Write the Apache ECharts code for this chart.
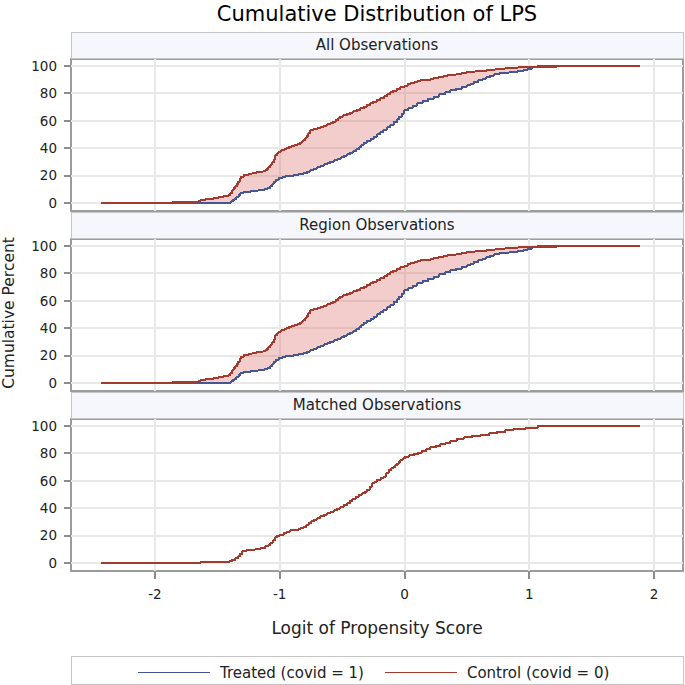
<!DOCTYPE html>
<html><head><meta charset="utf-8">
<script src="https://cdn.jsdelivr.net/npm/echarts@6/dist/echarts.min.js"></script>
<style>html,body{margin:0;padding:0;background:#fff}#c{width:685px;height:685px}
#c svg path, #c svg rect, #c svg polygon, #c svg polyline, #c svg line { shape-rendering: crispEdges; }</style>
</head><body><div id="c"></div>
<script>
// ---------- data ----------
const titleText = 'Cumulative Distribution of LPS';
const panelTitles = ['All Observations', 'Region Observations', 'Matched Observations'];
const xAxisTitle = 'Logit of Propensity Score';
const yAxisTitle = 'Cumulative Percent';
const yTicks = [0, 20, 40, 60, 80, 100];
const xTicks = [-2, -1, 0, 1, 2];
const treatedName = 'Treated (covid = 1)';
const controlName = 'Control (covid = 0)';

// [logit of propensity score, cumulative percent]
const allTreated = [
  [-1.86,0],[-1.389,1.2],[-1.375,2.0],[-1.363,2.7],[-1.347,4],[-1.33,5.5],[-1.315,7],[-1.295,7.7],
  [-1.275,8.2],[-1.234,8.8],[-1.19,9.2],[-1.154,9.5],[-1.12,10.2],[-1.095,11.0],[-1.074,11.9],
  [-1.06,13.6],[-1.048,15.5],[-1.03,16.8],[-1.008,18],[-0.98,18.6],[-0.954,19.2],[-0.92,19.8],
  [-0.887,20.4],[-0.85,21],[-0.807,21.7],[-0.78,22.8],[-0.754,24],[-0.725,25],[-0.70,26],[-0.673,27],
  [-0.645,28],[-0.62,29],[-0.595,30],[-0.567,31],[-0.54,32],[-0.51,33.2],[-0.485,34.3],[-0.459,35.5],
  [-0.435,36.6],[-0.41,37.8],[-0.385,39.2],[-0.365,40.6],[-0.345,42.2],[-0.326,44],[-0.30,45.2],
  [-0.27,46.6],[-0.245,48.2],[-0.219,50],[-0.195,51.6],[-0.17,53.2],[-0.14,55],[-0.112,57],[-0.085,59],
  [-0.059,61],[-0.04,63],[-0.02,65.2],[-0.006,67.5],[0.03,69],[0.065,71],[0.102,72.8],[0.145,74.3],
  [0.19,76],[0.235,77.6],[0.28,79.1],[0.325,80.6],[0.369,82],[0.415,83.3],[0.46,84.7],[0.503,86],
  [0.53,87],[0.555,88],[0.59,89.3],[0.625,90.6],[0.655,91.8],[0.689,92.9],[0.72,93.7],[0.755,94.5],
  [0.79,95],[0.823,95.4],[0.865,95.9],[0.91,96.4],[0.956,97],[0.99,97.9],[1.024,98.8],[1.10,99.3],[1.224,100]
];
const allControl = [
  [-2.43,0],[-1.862,0.6],[-1.70,1.1],[-1.635,2.2],[-1.595,3.0],[-1.531,3.6],[-1.49,4.2],[-1.451,5.0],
  [-1.41,5.8],[-1.395,7.0],[-1.381,9.0],[-1.37,10.5],[-1.358,12],[-1.345,13.5],[-1.331,15.5],
  [-1.32,17.5],[-1.309,19],[-1.29,20],[-1.275,20.6],[-1.25,21.2],[-1.234,21.7],[-1.205,22.2],
  [-1.181,22.6],[-1.15,23.0],[-1.128,23.4],[-1.11,24.0],[-1.101,24.8],[-1.09,26.0],[-1.074,27.7],
  [-1.062,29.5],[-1.048,31.4],[-1.04,33.5],[-1.034,35],[-1.02,36.3],[-1.008,37.4],[-0.99,38.2],
  [-0.968,39],[-0.945,39.8],[-0.927,40.6],[-0.905,41.3],[-0.887,42],[-0.86,43],[-0.834,44],[-0.82,45],
  [-0.807,46],[-0.795,47.5],[-0.78,49],[-0.77,51],[-0.754,53],[-0.73,53.8],[-0.70,54.6],[-0.673,55.4],
  [-0.645,56.3],[-0.62,57.2],[-0.593,58.2],[-0.57,59.3],[-0.55,60.5],[-0.53,61.8],[-0.513,63],
  [-0.49,63.9],[-0.46,64.9],[-0.433,65.9],[-0.41,66.9],[-0.38,68],[-0.353,69.1],[-0.325,70.3],
  [-0.30,71.5],[-0.273,72.8],[-0.25,73.9],[-0.22,75.1],[-0.192,76.4],[-0.165,77.7],[-0.14,79.1],
  [-0.112,80.6],[-0.09,81.9],[-0.06,83.3],[-0.032,84.6],[0.0,85.6],[0.025,86.5],[0.048,87.3],
  [0.08,88.1],[0.105,88.7],[0.128,89.3],[0.165,89.9],[0.2,90.4],[0.235,91],[0.27,91.8],[0.31,92.6],
  [0.342,93.3],[0.38,93.8],[0.422,94.3],[0.46,95],[0.503,95.7],[0.55,96.2],[0.609,96.7],[0.67,97.3],
  [0.72,97.8],[0.77,98.3],[0.84,98.7],[0.9,99.1],[0.96,99.5],[1.024,100],[1.887,100]
];
// region observations read identical to all observations in the picture
const regionTreated = allTreated;
const regionControl = allControl;
const matchedControl = [
  [-2.43,0],[-1.635,0.7],[-1.40,1.5],[-1.38,2.3],[-1.355,3.4],[-1.335,4.6],[-1.318,6.5],[-1.30,8.6],
  [-1.27,9.3],[-1.24,9.7],[-1.194,10.2],[-1.15,11.0],[-1.114,11.9],[-1.09,13.0],[-1.074,14.4],
  [-1.055,16.4],[-1.034,18.7],[-1.02,19.8],[-1.0,20.6],[-0.968,22.0],[-0.94,22.8],[-0.914,23.6],
  [-0.886,24.1],[-0.86,24.6],[-0.835,25.3],[-0.807,26.0],[-0.787,27.5],[-0.767,29.0],[-0.747,30.2],
  [-0.727,31.4],[-0.70,32.6],[-0.673,33.8],[-0.647,35],[-0.62,36.3],[-0.595,37.2],[-0.567,38.2],
  [-0.54,39.6],[-0.513,41.0],[-0.487,42.1],[-0.46,43.3],[-0.44,44.9],[-0.419,46.5],[-0.392,48],
  [-0.366,49.6],[-0.343,50.6],[-0.32,51.8],[-0.30,53.5],[-0.28,55.5],[-0.259,58.0],[-0.24,59.3],
  [-0.219,60.6],[-0.19,61.8],[-0.166,63.0],[-0.145,65.4],[-0.126,67.9],[-0.105,69.0],[-0.09,70.0],
  [-0.075,71.2],[-0.06,72.5],[-0.045,73.8],[-0.032,75.2],[-0.012,76.4],[0.008,77.6],[0.04,78.4],
  [0.075,79.3],[0.11,80.5],[0.142,81.8],[0.175,83.0],[0.208,84.2],[0.25,85.4],[0.289,86.6],[0.33,87.8],
  [0.369,89.0],[0.42,90.3],[0.475,91.5],[0.54,92.6],[0.609,93.5],[0.68,94.8],[0.743,95.8],[0.81,96.8],
  [0.876,97.8],[0.97,98.6],[1.07,100],[1.887,100]
];
// matched treated curve lies under the matched control curve
const matchedTreated = matchedControl;

// ---------- layout / style ----------
const FONT = 'DejaVu Sans';
const BLUE = '#445694', RED = '#A23A2E', FILL = 'rgba(214,86,86,0.30)';
const plotLeft = 71, plotWidth = 612, plotHeight = 152;
const panelTops = [59, 239, 419];
const xMin = -2.673, xMax = 2.233, yMin = -6, yMax = 105;

const panels = [
  {t: allTreated, c: allControl, band: true},
  {t: regionTreated, c: regionControl, band: true},
  {t: matchedTreated, c: matchedControl, band: false}
];

function stepAt(arr, x) {
  let v = arr[0][1];
  for (const p of arr) { if (p[0] <= x) v = p[1]; else break; }
  return v;
}
function bandPoints(lower, upper, api) {
  const x0 = lower[0][0], x1 = lower[lower.length - 1][0];
  const xs = Array.from(new Set(lower.concat(upper).map(p => p[0]).filter(x => x >= x0 && x <= x1)))
    .sort((a, b) => a - b);
  const top = [], bot = [];
  for (let i = 0; i < xs.length - 1; i++) {
    const a = xs[i], b = xs[i + 1];
    const u = stepAt(upper, a), l = stepAt(lower, a);
    top.push(api.coord([a, u]), api.coord([b, u]));
    bot.push(api.coord([a, l]), api.coord([b, l]));
  }
  return top.concat(bot.reverse());
}

const grids = [], xAxes = [], yAxes = [], series = [], graphics = [];
panels.forEach((p, i) => {
  const top = panelTops[i];
  const last = i === 2;
  grids.push({left: plotLeft, top: top, width: plotWidth, height: plotHeight, show: true,
    borderColor: '#9c9c9c', borderWidth: 2, backgroundColor: 'transparent'});
  const xa = {type: 'value', gridIndex: i, min: xMin, max: xMax, position: 'bottom',
    axisLine: {show: false, onZero: false}, splitLine: {show: false},
    axisTick: {show: false}, axisLabel: {show: false}};
  if (last) {
    xa.axisTick = {show: true, customValues: xTicks, length: 8, lineStyle: {color: '#8c8c8c', width: 1.5}};
    xa.axisLabel = {show: true, customValues: xTicks, margin: 16, fontFamily: FONT, fontSize: 13.5, color: '#222'};
  }
  xAxes.push(xa);
  yAxes.push({type: 'value', gridIndex: i, min: yMin, max: yMax, position: 'left',
    axisLine: {show: false, onZero: false}, splitLine: {show: false},
    axisTick: {show: true, customValues: yTicks, length: 7, lineStyle: {color: '#8c8c8c', width: 1.5}},
    axisLabel: {show: true, customValues: yTicks, margin: 14, fontFamily: FONT, fontSize: 13.5, color: '#222'}});
  // grid lines
  series.push({type: 'line', xAxisIndex: i, yAxisIndex: i, data: [[0, 0]], silent: true, showSymbol: false,
    lineStyle: {opacity: 0}, z: 0, animation: false,
    markLine: {silent: true, symbol: 'none', z: 0, animation: false, label: {show: false},
      lineStyle: {color: '#e8e8e8', width: 2, type: 'solid'},
      data: yTicks.map(v => ({yAxis: v})).concat(xTicks.map(v => ({xAxis: v})))}});
  if (p.band) {
    series.push({type: 'custom', xAxisIndex: i, yAxisIndex: i, data: [[0, 0]], silent: true, z: 1,
      animation: false,
      renderItem: (params, api) => ({type: 'polygon', shape: {points: bandPoints(p.t, p.c, api)},
        style: {fill: FILL, stroke: null}})});
  }
  series.push({name: treatedName, type: 'line', xAxisIndex: i, yAxisIndex: i, data: p.t, step: 'end',
    showSymbol: false, symbol: 'none', z: 3, animation: false, color: BLUE,
    lineStyle: {color: BLUE, width: 2}, itemStyle: {color: BLUE}});
  series.push({name: controlName, type: 'line', xAxisIndex: i, yAxisIndex: i, data: p.c, step: 'end',
    showSymbol: false, symbol: 'none', z: 4, animation: false, color: RED,
    lineStyle: {color: RED, width: 2}, itemStyle: {color: RED}});
  // panel header
  graphics.push({type: 'rect', shape: {x: plotLeft, y: top - 27, width: plotWidth, height: 26},
    style: {fill: '#f5f7fd', stroke: '#c6c6c6', lineWidth: 1}, z: 10});
  graphics.push({type: 'text', x: plotLeft + plotWidth / 2, y: top - 14, z: 11,
    style: {text: panelTitles[i], fontFamily: FONT, fontSize: 15, fill: '#222',
      textAlign: 'center', textVerticalAlign: 'middle'}});
});

graphics.push({type: 'text', x: plotLeft + plotWidth / 2, y: 14, z: 11,
  style: {text: titleText, fontFamily: FONT, fontSize: 21, fill: '#000', textAlign: 'center', textVerticalAlign: 'middle'}});
graphics.push({type: 'text', x: plotLeft + plotWidth / 2, y: 628, z: 11,
  style: {text: xAxisTitle, fontFamily: FONT, fontSize: 17, fill: '#222', textAlign: 'center', textVerticalAlign: 'middle'}});
graphics.push({type: 'text', x: 9, y: 313, rotation: Math.PI / 2, z: 11,
  style: {text: yAxisTitle, fontFamily: FONT, fontSize: 15.5, fill: '#222', textAlign: 'center', textVerticalAlign: 'middle'}});
graphics.push({type: 'rect', shape: {x: plotLeft, y: 656, width: plotWidth, height: 28},
  style: {fill: 'none', stroke: '#c6c6c6', lineWidth: 1}, z: 10});

const chart = echarts.init(document.getElementById('c'), null, {renderer: 'svg'});
chart.setOption({
  animation: false,
  backgroundColor: '#fff',
  grid: grids, xAxis: xAxes, yAxis: yAxes, series: series, graphic: graphics,
  legend: {data: [treatedName, controlName], left: 133, top: 660, selectedMode: false,
    icon: 'rect', itemWidth: 72, itemHeight: 1.6, itemGap: 21,
    textStyle: {fontFamily: FONT, fontSize: 15, color: '#222', padding: [0, 0, 0, 5]}}
});
</script></body></html>
